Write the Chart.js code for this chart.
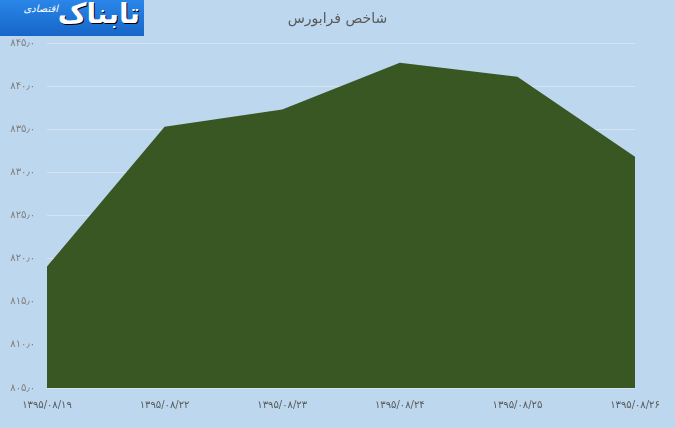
<!DOCTYPE html>
<html>
<head>
<meta charset="utf-8">
<script src="https://cdn.jsdelivr.net/npm/chart.js@4"></script>
<style>
  html, body { margin: 0; padding: 0; }
  body { width: 675px; height: 428px; background: #BDD7EE; position: relative; overflow: hidden; font-family: "DejaVu Sans", sans-serif; }
  #wrap { position: absolute; left: 0; top: 0; width: 675px; height: 428px; }
  #logo { position: absolute; left: 0; top: 0; width: 144px; height: 36px; background: linear-gradient(#2a86e8, #1566c8); color: #fff; direction: rtl; overflow: hidden; }
  #logo .big { position: absolute; right: 4px; top: -3px; font-size: 28px; font-weight: bold; text-shadow: 1px 1px 0 #000; }
  #logo .small { position: absolute; right: 86px; top: 3px; font-size: 10px; font-style: italic; }
  #title { position: absolute; left: 0; width: 675px; top: 10px; text-align: center; font-size: 14px; color: #595959; direction: rtl; }
</style>
</head>
<body>
<div id="wrap"><canvas id="chart" width="675" height="428"></canvas></div>
<div id="logo"><span class="big">تابناک</span><span class="small">اقتصادی</span></div>
<div id="title">شاخص فرابورس</div>
<script>
const dates = ['۱۳۹۵/۰۸/۱۹', '۱۳۹۵/۰۸/۲۲', '۱۳۹۵/۰۸/۲۳', '۱۳۹۵/۰۸/۲۴', '۱۳۹۵/۰۸/۲۵', '۱۳۹۵/۰۸/۲۶'];
const indexValues = [819.1, 835.3, 837.3, 842.7, 841.1, 831.8];
const yMin = 805, yMax = 845, yStep = 5;

// western digits -> persian digits, decimal point -> ٫
function toPersian(s) {
  return String(s).replace(/[0-9]/g, d => '۰۱۲۳۴۵۶۷۸۹'[d]).replace('.', '٫');
}

const ctx = document.getElementById('chart').getContext('2d');
new Chart(ctx, {
  type: 'line',
  data: {
    labels: dates,
    datasets: [{
      data: indexValues,
      backgroundColor: '#385723',
      borderWidth: 0,
      pointRadius: 0,
      tension: 0,
      fill: 'start'
    }]
  },
  options: {
    responsive: false,
    animation: false,
    layout: { padding: { left: 0, top: 43, right: 40, bottom: 0 } },
    plugins: { legend: { display: false }, tooltip: { enabled: false } },
    scales: {
      x: {
        offset: false,
        grid: { display: false },
        border: { display: false },
        afterFit: s => { s.height = 40; },
        ticks: {
          padding: 3,
          maxRotation: 0,
          color: '#595959',
          font: { family: 'DejaVu Sans', size: 10 }
        }
      },
      y: {
        min: yMin,
        max: yMax,
        afterFit: s => { s.width = 47; },
        grid: { color: '#D6E4F2', drawTicks: false, lineWidth: 1 },
        border: { display: false },
        ticks: {
          stepSize: yStep,
          padding: 12,
          color: '#7F7F7F',
          font: { family: 'DejaVu Sans', size: 10 },
          callback: v => toPersian(v.toFixed(1))
        }
      }
    }
  }
});
</script>
</body>
</html>
